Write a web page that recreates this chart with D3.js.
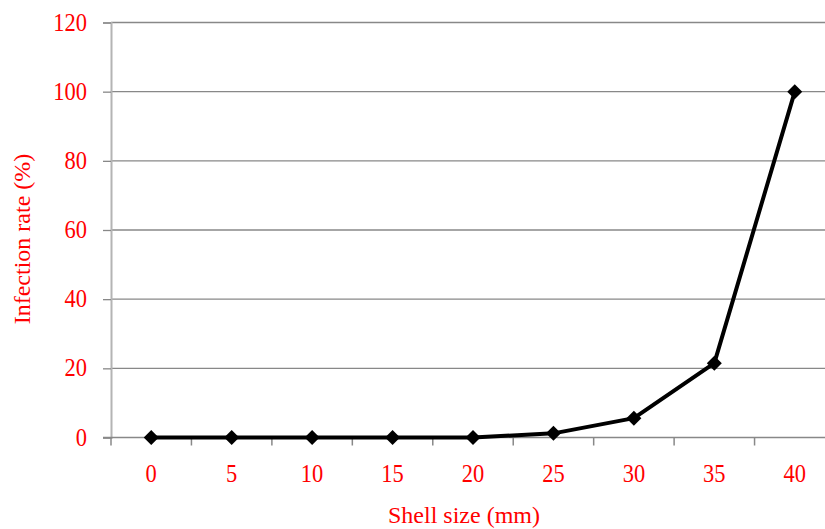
<!DOCTYPE html>
<html><head><meta charset="utf-8">
<script src="https://cdn.jsdelivr.net/npm/d3@7"></script>
<style>
html,body{margin:0;padding:0;background:#fff;overflow:hidden}
text{font-family:"Liberation Serif","Times New Roman",serif;fill:#ff0000}
</style></head>
<body>
<svg id="c" width="825" height="529"></svg>
<script>
const categories = ["0","5","10","15","20","25","30","35","40"];
const infectionRate = [0,0,0,0,0,1.2,5.6,21.5,100];
const yTicks = [0,20,40,60,80,100,120];
const xTitle = "Shell size (mm)";
const yTitle = "Infection rate (%)";

(function(){
const svg = d3.select("#c");
const mLeft = 111, mRight = 835, mTop = 22.5, mBottom = 437.5;
const x = d3.scaleBand().domain(categories).range([mLeft, mRight]);
const y = d3.scaleLinear().domain([0,120]).range([mBottom, mTop]);
const sy = 1.15;

// gridlines
svg.append("g").selectAll("line").data(yTicks.filter(d=>d>0)).join("line")
  .attr("x1", mLeft).attr("x2", 825).attr("y1", d=>y(d)).attr("y2", d=>y(d))
  .attr("stroke", "#888").attr("stroke-width", 1.3);

// y axis
const ya = svg.append("g").attr("transform", `translate(${mLeft},0)`)
  .call(d3.axisLeft(y).tickValues(yTicks).tickSize(8).tickPadding(16));
ya.select(".domain").attr("stroke", "#b4b4b4").attr("stroke-width", 2);
ya.selectAll(".tick line").attr("stroke", "#888").attr("stroke-width", 1.3);
ya.selectAll(".tick text").attr("font-size", 22.5).attr("fill", "#ff0000")
  .attr("dy", null).attr("transform", `scale(1,${sy})`).attr("y", 7.5/sy);

// x axis
const xa = svg.append("g").attr("transform", `translate(0,${mBottom})`)
  .call(d3.axisBottom(x).tickSize(0).tickPadding(0));
xa.select(".domain").remove();
xa.selectAll(".tick text").attr("font-size", 22.5).attr("fill", "#ff0000")
  .attr("dy", null).attr("transform", `scale(1,${sy})`).attr("y", 44.5/sy);
svg.append("line").attr("x1", mLeft - 8).attr("x2", 825).attr("y1", mBottom).attr("y2", mBottom)
  .attr("stroke", "#888").attr("stroke-width", 1.5);
// category boundary ticks
svg.append("g").selectAll("line").data(categories).join("line")
  .attr("x1", d=>x(d)).attr("x2", d=>x(d)).attr("y1", mBottom).attr("y2", mBottom+8)
  .attr("stroke", "#888").attr("stroke-width", 1.5);

// line
const cx = d => x(d) + x.bandwidth()/2;
const pts = categories.map((c,i)=>[cx(c), y(infectionRate[i])]);
svg.append("path").datum(pts).attr("d", d3.line())
  .attr("fill","none").attr("stroke","#000").attr("stroke-width",4)
  .attr("stroke-linejoin","round");
svg.append("g").selectAll("path").data(pts).join("path")
  .attr("transform", d=>`translate(${d[0]},${d[1]})`)
  .attr("d", "M0,-7.5L7.5,0L0,7.5L-7.5,0Z").attr("fill","#000");

// titles
svg.append("text").attr("transform", `translate(464,523)`)
  .attr("text-anchor","middle").attr("font-size",24).text(xTitle);
svg.append("text").attr("transform", `translate(30,239) rotate(-90)`)
  .attr("text-anchor","middle").attr("font-size",24).text(yTitle);
})();
</script>
</body></html>
